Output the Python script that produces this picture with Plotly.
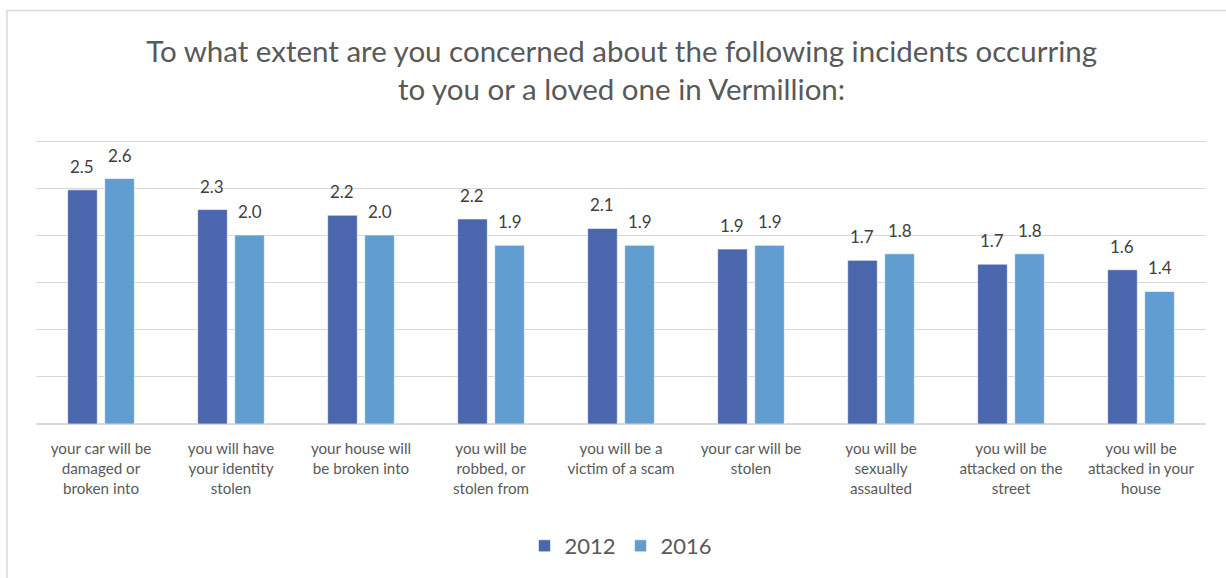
import plotly.graph_objects as go

categories = [
    "your car will be<br>damaged or<br>broken into",
    "you will have<br>your identity<br>stolen",
    "your house will<br>be broken into",
    "you will be<br>robbed, or<br>stolen from",
    "you will be a<br>victim of a scam",
    "your car will be<br>stolen",
    "you will be<br>sexually<br>assaulted",
    "you will be<br>attacked on the<br>street",
    "you will be<br>attacked in your<br>house",
]
values_2012 = [2.49, 2.28, 2.22, 2.18, 2.08, 1.86, 1.74, 1.70, 1.64]
values_2016 = [2.61, 2.01, 2.01, 1.90, 1.90, 1.90, 1.81, 1.81, 1.41]
series_names = ["2012", "2016"]
colors = ["#4A66AC", "#629DD1"]

FONT = "Lato"
TEXT_COLOR = "#595959"
LABEL_COLOR = "#404040"

fig = go.Figure()
for name, vals, col in zip(series_names, [values_2012, values_2016], colors):
    fig.add_trace(go.Bar(
        name=name, x=categories, y=vals,
        marker=dict(color=col, line=dict(color="rgba(255,255,255,0.6)", width=1)),
        hoverinfo="skip",
    ))

bargap = 0.43
bargroupgap = 0.2
slot = (1 - bargap) / 2
offsets = [-slot / 2, slot / 2]
annotations = []
for off, vals in zip(offsets, [values_2012, values_2016]):
    for i, v in enumerate(vals):
        annotations.append(dict(
            x=i + off, y=v, xref="x", yref="y", text=f"{v:.1f}",
            showarrow=False, yanchor="bottom", yshift=11,
            font=dict(family=FONT, size=17, color=LABEL_COLOR),
        ))

plot_h = 578 - 140 - 153
fig.update_layout(
    width=1226, height=578,
    paper_bgcolor="white", plot_bgcolor="white",
    margin=dict(l=36, r=20, t=140, b=153),
    barmode="group", bargap=bargap, bargroupgap=bargroupgap,
    title=dict(
        text="To what extent are you concerned about the following incidents occurring<br>to you or a loved one in Vermillion:",
        x=0.507, xanchor="center", y=1 - 62 / 578, yanchor="top", yref="container",
        font=dict(family=FONT, size=29.5, color=TEXT_COLOR),
    ),
    xaxis=dict(
        tickfont=dict(family=FONT, size=15.2, color=TEXT_COLOR),
        showline=False, ticks="", showgrid=False, ticklabelstandoff=14,
    ),
    yaxis=dict(
        range=[0, 3.02], dtick=0.5, showticklabels=False,
        showgrid=True, gridcolor="#D9D9D9", gridwidth=1.3,
        zeroline=True, zerolinecolor="#D9D9D9", zerolinewidth=2,
        showline=False, ticks="",
    ),
    legend=dict(
        orientation="h", x=0.5, xanchor="center", y=-(546 - 425) / plot_h, yanchor="middle",
        font=dict(family=FONT, size=22, color=TEXT_COLOR),
        itemwidth=30, traceorder="normal",
    ),
    annotations=annotations,
    shapes=[dict(
        type="rect", xref="paper", yref="paper",
        x0=-29 / 1170, x1=1.03, y0=-0.6, y1=(425 - 10) / plot_h,
        line=dict(color="#D9D9D9", width=1.5), layer="below",
    )],
)

fig.write_html("out.html", config={"displayModeBar": False},
               post_script="document.body.style.margin='0';")
